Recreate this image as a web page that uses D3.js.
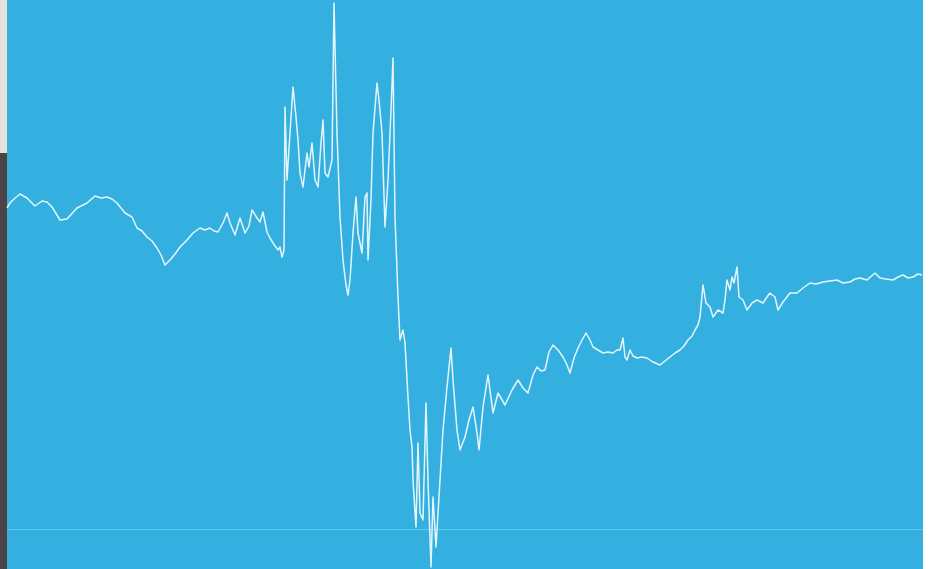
<!DOCTYPE html>
<html>
<head>
<meta charset="utf-8">
<script src="https://cdn.jsdelivr.net/npm/d3@7/dist/d3.min.js"></script>
<style>
  html, body { margin: 0; padding: 0; background: #ffffff; }
  svg { display: block; }
</style>
</head>
<body>
<svg id="chart" width="935" height="569"></svg>
<script>
// Sample times (ms from start of trace)
const times = [
  0,3,7,13,20,28,35,40,45,53,
  60,70,80,88,94,100,105,110,118,125,
  130,135,140,145,150,154,158,163,168,173,
  180,186,193,198,203,207,211,216,220,223,
  228,233,238,242,245,250,253,256,260,263,
  266,271,273,275,277,278,280,283,286,289,
  291,293,296,300,302,305,308,311,314,316,
  318,321,325,327,330,333,336,339,341,343,
  346,349,351,355,358,360,361,364,366,370,
  372,375,378,381,384,386,388,391,393,396,
  398,401,403,405,406,409,411,413,416,419,
  421,424,426,429,433,436,440,444,446,450,
  453,458,462,466,470,472,476,481,486,491,
  498,505,511,516,521,526,530,534,538,542,
  546,551,556,560,563,567,571,575,579,583,
  586,591,596,601,606,610,613,616,618,620,
  623,626,630,635,640,646,653,658,663,668,
  673,677,681,685,688,691,693,696,699,703,
  706,711,716,718,720,723,725,727,730,732,
  736,740,745,750,756,760,763,768,771,776,
  783,790,796,803,809,816,823,830,836,843,
  848,853,860,868,873,879,886,891,896,901,
  906,911,915
];
// Signal amplitude at each sample
const values = [
  321,326,330,335,331,323,328,327,322,309,
  310,321,326,333,331,332,330,326,316,312,
  301,298,292,288,281,274,264,269,275,282,
  289,296,301,299,301,298,297,306,316,306,
  294,311,296,303,319,311,307,317,297,291,
  286,279,282,272,279,422,349,396,442,412,
  389,356,342,376,362,386,349,342,386,409,
  356,352,369,526,396,312,269,244,234,249,
  296,332,296,276,332,336,269,329,396,446,
  429,396,302,349,419,471,312,232,189,199,
  186,132,99,82,49,2,86,16,9,126,
  49,-38,32,-18,49,99,142,181,149,99,
  79,92,109,122,96,79,122,154,116,136,
  124,139,149,141,136,154,162,158,159,177,
  184,179,172,164,156,171,181,189,196,189,
  182,179,176,177,176,179,179,191,172,169,
  179,173,171,172,171,167,164,168,172,176,
  179,183,189,193,199,204,212,244,226,222,
  212,219,216,229,249,239,252,246,262,232,
  229,219,226,229,226,232,236,232,219,227,
  236,236,241,246,245,247,248,249,246,247,
  250,251,249,256,251,250,249,252,254,251,
  252,255,254
];
const timeDomain = [0, 915];
const valueDomain = [-40, 529];
const baselineValue = 0;

const W = 935, H = 569;
const plotLeft = 7, plotRight = 923;
const svg = d3.select("#chart");

// Surroundings
svg.append("rect").attr("x", 0).attr("y", 0).attr("width", plotLeft).attr("height", 153).attr("fill", "#e8e0dd");
svg.append("rect").attr("x", 0).attr("y", 153).attr("width", plotLeft).attr("height", H - 153).attr("fill", "#4b4346");
svg.append("rect").attr("x", plotLeft).attr("y", 0).attr("width", plotRight - plotLeft).attr("height", H).attr("fill", "#34b0e0");

const x = d3.scaleLinear().domain(timeDomain).range([7, 922]);
const y = d3.scaleLinear().domain(valueDomain).range([H, 0]);

// Baseline
svg.append("line")
  .attr("x1", plotLeft).attr("x2", plotRight)
  .attr("y1", y(baselineValue) + 0.5).attr("y2", y(baselineValue) + 0.5)
  .attr("stroke", "#62c7ee").attr("stroke-width", 1);

const data = times.map((t, i) => ({ t, v: values[i] }));
const line = d3.line().x(d => x(d.t)).y(d => y(d.v));

svg.append("path")
  .datum(data)
  .attr("d", line)
  .attr("fill", "none")
  .attr("stroke", "#f4fbff")
  .attr("stroke-opacity", 0.92)
  .attr("stroke-width", 1.5)
  .attr("stroke-linejoin", "round");
</script>
</body>
</html>
